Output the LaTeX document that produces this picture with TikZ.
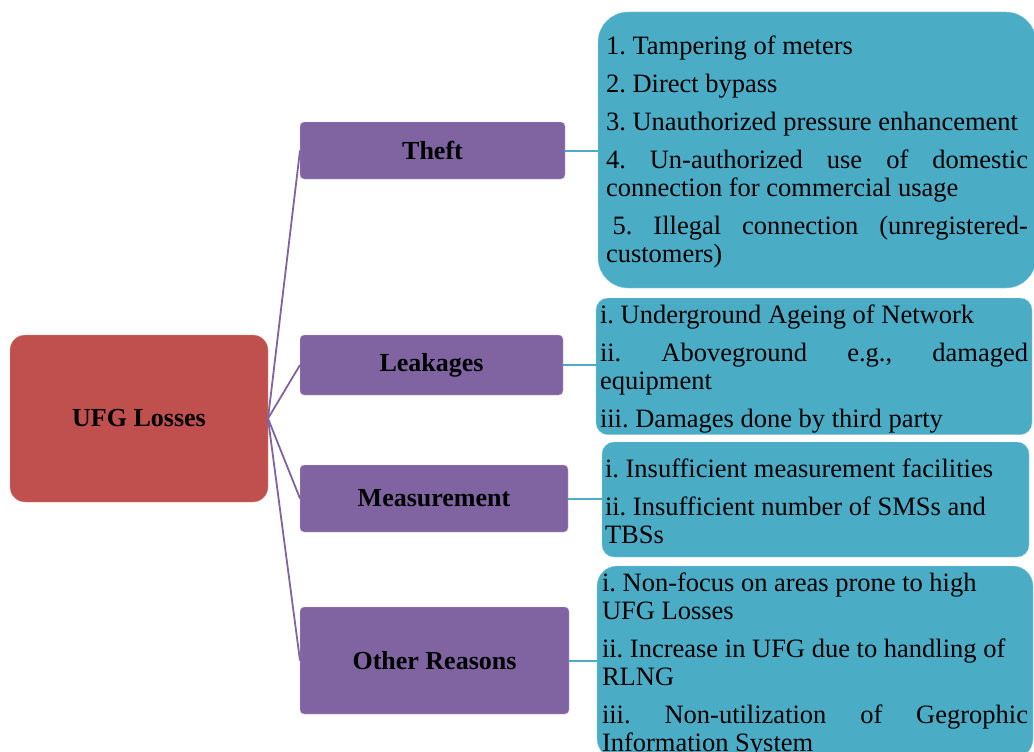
\documentclass[tikz,border=0pt]{standalone}
\usepackage{fontspec}
\setmainfont{Liberation Serif}
\usepackage{tikz}
\usetikzlibrary{calc}
\definecolor{rootred}{RGB}{192,80,77}
\definecolor{catpurple}{RGB}{128,100,162}
\definecolor{listblue}{RGB}{75,172,198}

\begin{document}
\begin{tikzpicture}[x=1pt,y=-1pt,
	root/.style={rectangle,rounded corners=15pt,fill=rootred,draw=rootred!55!white,outer sep=0pt,font={\fontsize{26}{28}\selectfont\bfseries}},
	cat/.style={rectangle,rounded corners=4pt,fill=catpurple,draw=catpurple!45!white,outer sep=0pt,font={\fontsize{26}{28}\selectfont\bfseries}},
	items/.style={rectangle,fill=listblue,draw=listblue!60!white,anchor=north west,outer sep=0pt,inner ysep=2pt,align=justify,text height=23pt,
		font={\fontsize{26.5}{28}\selectfont\frenchspacing\hyphenpenalty=10000 \tolerance=9999 \spaceskip=.25em plus 1em\relax}},
	link/.style={catpurple,line width=1.8pt},
	tie/.style={listblue,line width=2pt}]

	\useasboundingbox(0,0) rectangle (1034,752);

	\node[root,minimum width=258,minimum height=167] (ufg) at (139,418.5){UFG Losses};

	\node[cat,minimum width=265,minimum height=57] (theft) at (432.5,150.5){Theft};
	\node[cat,minimum width=263,minimum height=60] (leak) at (431.5,365){Leakages};
	\node[cat,minimum width=268,minimum height=67] (meas) at (434,498.5){Measurement};
	\node[cat,minimum width=269,minimum height=107] (other) at (434.5,660.5){Other Reasons};

	\draw[link](ufg.east)--(theft.west);
	\draw[link](ufg.east)--(leak.west);
	\draw[link](ufg.east)--(meas.west);
	\draw[link](ufg.east)--(other.west);

	%lists of causes
	\node[items,rounded corners=30pt,inner xsep=8pt,text width=422pt,minimum height=276] (theftlist) at (598,12){1. Tampering of meters\\[10pt]2. Direct bypass\\[10pt]3. Unauthorized pressure enhancement\\[10pt]4. Un-authorized use of domestic connection for commercial usage\\[10pt]\hspace*{.25em}5. Illegal connection (unregistered-customers)};
	\node[items,rounded corners=12pt,inner xsep=4pt,text width=428pt,minimum height=134] (leaklist) at (596,298){i. Underground Ageing of Network\\[10pt]ii. Aboveground e.g., damaged equipment\\[10pt]iii. Damages done by third party};
	\node[items,rounded corners=12pt,inner xsep=3pt,text width=421pt,minimum height=115] (measlist) at (602,442){i. Insufficient measurement facilities\\[10pt]ii. Insufficient number of SMSs and\\TBSs};
	\node[items,rounded corners=20pt,inner xsep=5pt,text width=426pt,minimum height=190] (otherlist) at (597,566){i. Non-focus on areas prone to high\\UFG Losses\\[10pt]ii. Increase in UFG due to handling of\\RLNG\\[10pt]iii. Non-utilization of Gegrophic Information System};

	\draw[tie](theft.east)--(theft.east -| theftlist.west);
	\draw[tie](leak.east)--(leak.east -| leaklist.west);
	\draw[tie](meas.east)--(meas.east -| measlist.west);
	\draw[tie](other.east)--(other.east -| otherlist.west);

\end{tikzpicture}
\end{document}
